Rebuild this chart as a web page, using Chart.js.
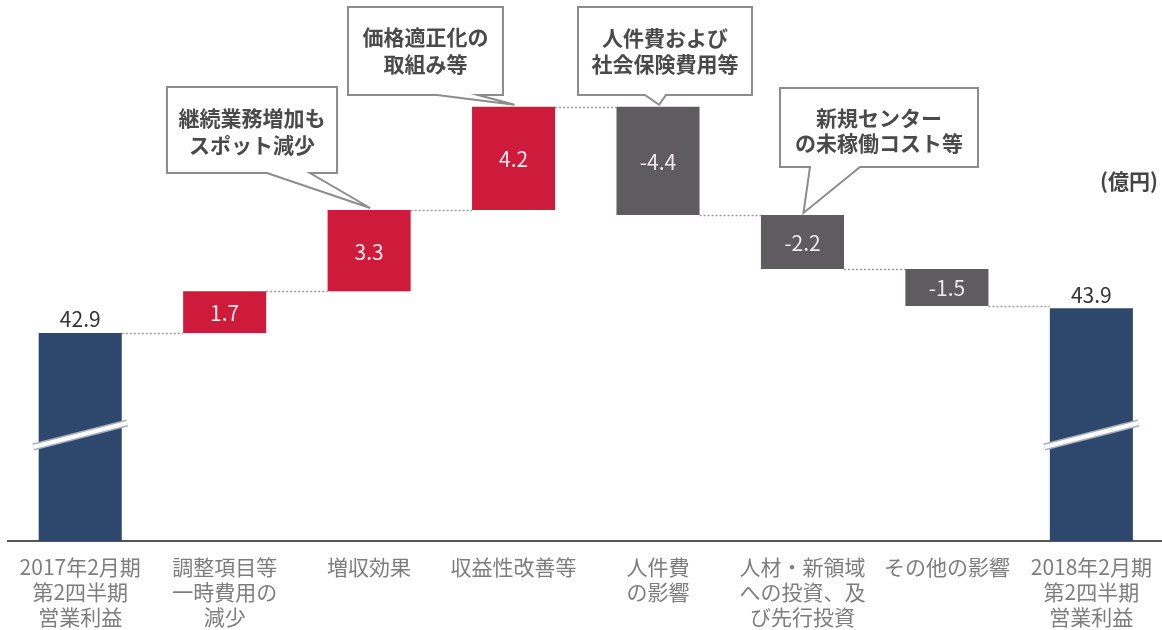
<!DOCTYPE html>
<html lang="ja">
<head>
<meta charset="utf-8">
<script src="https://cdn.jsdelivr.net/npm/chart.js@4.4.1/dist/chart.umd.min.js"></script>
<style>
  html, body { margin: 0; padding: 0; background: #fff; overflow: hidden; }
  #wrap { width: 1166px; height: 644px; position: relative; }
</style>
</head>
<body>
<div id="wrap"><canvas id="chart"></canvas></div>
<script>
const categories = [
  ["2017年2月期", "第2四半期", "営業利益"],
  ["調整項目等", "一時費用の", "減少"],
  ["増収効果"],
  ["収益性改善等"],
  ["人件費", "の影響"],
  ["人材・新領域", "への投資、及", "び先行投資"],
  ["その他の影響"],
  ["2018年2月期", "第2四半期", "営業利益"],
];
const changes = [42.9, 1.7, 3.3, 4.2, -4.4, -2.2, -1.5, 43.9];
const valueLabels = ["42.9", "1.7", "3.3", "4.2", "-4.4", "-2.2", "-1.5", "43.9"];
const barKinds = ["total", "up", "up", "up", "down", "down", "down", "total"];
const notes = [
  null,
  null,
  ["継続業務増加も", "スポット減少"],
  ["価格適正化の", "取組み等"],
  ["人件費および", "社会保険費用等"],
  ["新規センター", "の未稼働コスト等"],
  null,
  null,
];
const unitLabel = "(億円)";

// floating ranges for the waterfall
let running = 0;
const ranges = changes.map((v, i) => {
  if (barKinds[i] === "total") {
    running = v;
    return [0, v];
  }
  const start = running;
  running = +(running + v).toFixed(1);
  return [start, running];
});

const colors = { total: "#2d476d", up: "#cf1b3b", down: "#5e5c5f" };
const FONT = "'Noto Sans CJK JP', 'Noto Sans', sans-serif";

// callout box layout (pixels)
const calloutBoxes = {
  2: { x: 167, y: 87, w: 170, h: 86, t1: 267, t2: 310, lines: [118, 145] },
  3: { x: 348, y: 7, w: 155, h: 88, t1: 437, t2: 478, lines: [37, 64] },
  4: { x: 578, y: 7, w: 174, h: 88, t1: 645, t2: 666, lines: [38, 64] },
  5: { x: 780, y: 88, w: 198, h: 79, t1: 810, t2: 860, lines: [118, 143] },
};

const waterfallDecor = {
  id: "waterfallDecor",
  beforeDatasetsDraw(chart) {
    const { ctx } = chart;
    const meta = chart.getDatasetMeta(0);
    const y = chart.scales.y;
    ctx.save();
    ctx.strokeStyle = "#9a9a9a";
    ctx.lineWidth = 1.5;
    ctx.setLineDash([2, 2]);
    for (let i = 0; i < meta.data.length - 1; i++) {
      const a = meta.data[i];
      const b = meta.data[i + 1];
      const py = Math.round(y.getPixelForValue(ranges[i][1])) + 0.5;
      ctx.beginPath();
      ctx.moveTo(a.x + a.width / 2, py);
      ctx.lineTo(b.x - b.width / 2, py);
      ctx.stroke();
    }
    ctx.restore();
  },
  afterDatasetsDraw(chart) {
    const { ctx, chartArea } = chart;
    const meta = chart.getDatasetMeta(0);
    ctx.save();

    meta.data.forEach((el, i) => {
      const top = Math.min(el.y, el.base);
      const bottom = Math.max(el.y, el.base);
      ctx.textAlign = "center";
      if (barKinds[i] === "total") {
        ctx.font = "21px " + FONT;
        ctx.fillStyle = "#333";
        ctx.textBaseline = "bottom";
        ctx.fillText(valueLabels[i], el.x, top - 3);

        // axis break mark
        const by = chartArea.bottom - 106;
        ctx.lineCap = "butt";
        ctx.strokeStyle = "#a8b0bb";
        ctx.lineWidth = 7;
        ctx.beginPath();
        ctx.moveTo(el.x - 47, by + 12);
        ctx.lineTo(el.x + 47, by - 12);
        ctx.stroke();
        ctx.strokeStyle = "#ffffff";
        ctx.lineWidth = 4;
        ctx.beginPath();
        ctx.moveTo(el.x - 47, by + 12);
        ctx.lineTo(el.x + 47, by - 12);
        ctx.stroke();
      } else {
        ctx.font = "21px " + FONT;
        ctx.fillStyle = "#f1e9ea";
        ctx.textBaseline = "middle";
        ctx.fillText(valueLabels[i], el.x, (top + bottom) / 2 + 1);
      }
    });

    // callouts
    Object.keys(calloutBoxes).forEach((k) => {
      const i = +k;
      const b = calloutBoxes[k];
      const el = meta.data[i];
      const tipX = el.x + 1;
      const tipY = Math.min(el.y, el.base) - 2;
      const bot = b.y + b.h;
      ctx.beginPath();
      ctx.moveTo(b.x, b.y);
      ctx.lineTo(b.x + b.w, b.y);
      ctx.lineTo(b.x + b.w, bot);
      ctx.lineTo(b.t2, bot);
      ctx.lineTo(tipX, tipY);
      ctx.lineTo(b.t1, bot);
      ctx.lineTo(b.x, bot);
      ctx.closePath();
      ctx.fillStyle = "#fff";
      ctx.fill();
      ctx.strokeStyle = "#8c8c8c";
      ctx.lineWidth = 2;
      ctx.lineJoin = "miter";
      ctx.stroke();

      ctx.fillStyle = "#4a4a4a";
      ctx.font = "bold 21px " + FONT;
      ctx.textAlign = "center";
      ctx.textBaseline = "middle";
      notes[i].forEach((line, j) => {
        ctx.fillText(line, b.x + b.w / 2, b.lines[j]);
      });
    });

    ctx.fillStyle = "#444";
    ctx.font = "bold 21px " + FONT;
    ctx.textAlign = "right";
    ctx.textBaseline = "middle";
    ctx.fillText(unitLabel, 1158, 181);
    ctx.restore();
  },
};

new Chart(document.getElementById("chart"), {
  type: "bar",
  data: {
    labels: categories,
    datasets: [
      {
        data: ranges,
        backgroundColor: barKinds.map((k) => colors[k]),
        borderWidth: 0,
        borderSkipped: false,
        barPercentage: 0.575,
        categoryPercentage: 1,
      },
    ],
  },
  options: {
    responsive: true,
    maintainAspectRatio: false,
    animation: false,
    layout: { padding: { left: 8, right: 0, top: 0, bottom: 0 } },
    plugins: {
      legend: { display: false },
      tooltip: { enabled: false },
    },
    scales: {
      x: {
        grid: { display: true, drawOnChartArea: false, drawTicks: false },
        border: { display: true, color: "#555", width: 2 },
        ticks: {
          padding: 14,
          color: "#7d7d7d",
          maxRotation: 0,
          autoSkip: false,
          font: { family: FONT, size: 21, lineHeight: 25 / 21 },
        },
      },
      y: {
        display: false,
        min: 34.44,
        max: 56.44,
      },
    },
  },
  plugins: [waterfallDecor],
});
</script>
</body>
</html>
